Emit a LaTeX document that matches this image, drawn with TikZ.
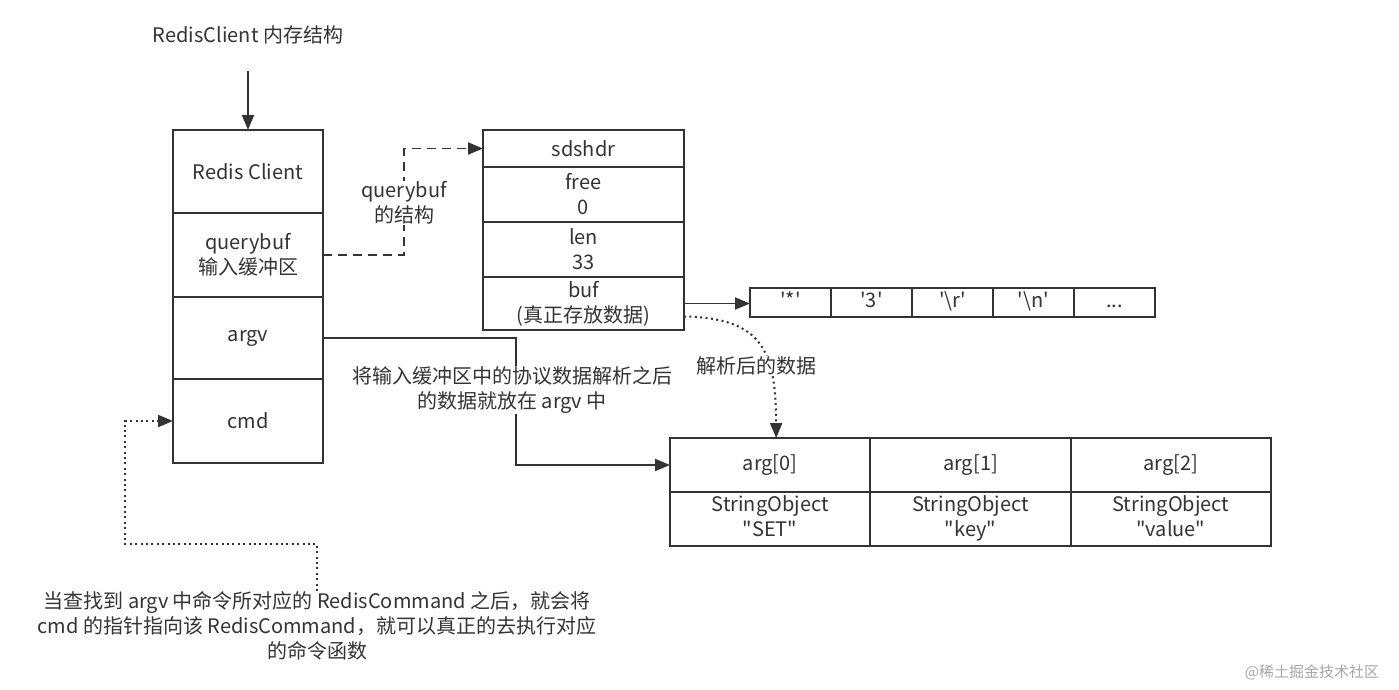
\documentclass[tikz,border=0pt]{standalone}
\usepackage{fontspec}
\setmainfont{Noto Sans CJK SC}[Ligatures=TeXOff]
\usetikzlibrary{arrows.meta}
\definecolor{ink}{HTML}{333333}
\newcommand\celldots{...}

\begin{document}
\begin{tikzpicture}[x=1pt,y=-1pt,
    font=\fontsize{20}{25}\selectfont,
    cell/.style={draw=ink,line width=1.9pt,inner sep=0pt,outer sep=0pt,
      align=center,text=ink},
    lbl/.style={fill=white,inner sep=1pt,align=center,text=ink},
    arr/.style={draw=ink,line width=1.9pt,-{Triangle[length=15pt,width=12pt]}},
    dasharr/.style={arr,dash pattern=on 9pt off 6pt},
    dotarr/.style={arr,line width=2pt,dash pattern=on 2pt off 3.4pt}]
  \useasboundingbox (0,0) rectangle (1399,689);

  % client struct
  \node[text=ink] (title) at (248,35) {RedisClient 内存结构};
  \begin{scope}[every node/.append style={cell,minimum width=150pt}]
    \node[minimum height=83pt] (client) at (248,171.5) {Redis Client};
    \node[minimum height=84pt] (querybuf) at (248,255) {querybuf\\输入缓冲区};
    \node[minimum height=82pt] (argv) at (248,338) {argv};
    \node[minimum height=84pt] (cmd) at (248,421) {cmd};
  \end{scope}
  \draw[arr] ([yshift=-23pt]title.south) -- (client.north);

  % sdshdr
  \begin{scope}[every node/.append style={cell,minimum width=201pt}]
    \node[minimum height=37pt] (sdshdr) at (583.5,148.5) {sdshdr};
    \node[minimum height=55pt] (free) at (583.5,194.5) {free\\0};
    \node[minimum height=55pt] (len) at (583.5,249.5) {len\\33};
    \node[minimum height=53pt] (buf) at (583.5,303.5) {buf\\(真正存放数据)};
  \end{scope}

  % buf contents
  \foreach \t [count=\i] in {'*','3','\textbackslash r','\textbackslash n',\celldots}
    \node[cell,minimum width=81pt,minimum height=29pt] (c\i)
      at (709.5+81*\i,302.5) {\t\strut};

  % argv array
  \foreach \a/\s [count=\i from 0] in {0/SET,1/key,2/value} {
    \node[cell,minimum width=200.33pt,minimum height=54pt] (arg\i)
      at (770.17+200.33*\i,465) {arg[\a]};
    \node[cell,minimum width=200.33pt,minimum height=54pt] (obj\i)
      at (770.17+200.33*\i,519) {StringObject\strut\\"\s"\strut};
  }

  % connectors
  \draw[dasharr] (querybuf.east) -| ([xshift=-79pt]sdshdr.west) -- (sdshdr.west);
  \node[lbl] (qlbl) at (404,203) {querybuf\\的结构};
  \draw[arr] (buf.east) -- (buf.east -| c1.west);
  \draw[arr] (argv.east) -| ([xshift=-154pt]arg0.west) -- (arg0.west);
  \node[lbl] (alb) at (512,390) {将输入缓冲区中的协议数据解析之后\\的数据就放在 argv 中};
  \draw[dotarr] ([yshift=-13pt]buf.east) .. controls (762,318) and (776,350)
    .. ([xshift=6pt]arg0.north);
  \node[lbl] (plbl) at (756,366) {解析后的数据};

  % note on cmd
  \node[text=ink,align=center,anchor=north,inner sep=0pt] (note) at (317,591)
    {当查找到 argv 中命令所对应的 RedisCommand 之后，就会将\\
     cmd 的指针指向该 RedisCommand，就可以真正的去执行对应\\
     的命令函数};
  \draw[dotarr] (note.north) |- ++(-192,-47) |- (cmd.west);

  \node[text=black!35,font=\fontsize{15}{18}\selectfont] (mark) at (1312,672)
    {@稀土掘金技术社区};
\end{tikzpicture}
\end{document}
